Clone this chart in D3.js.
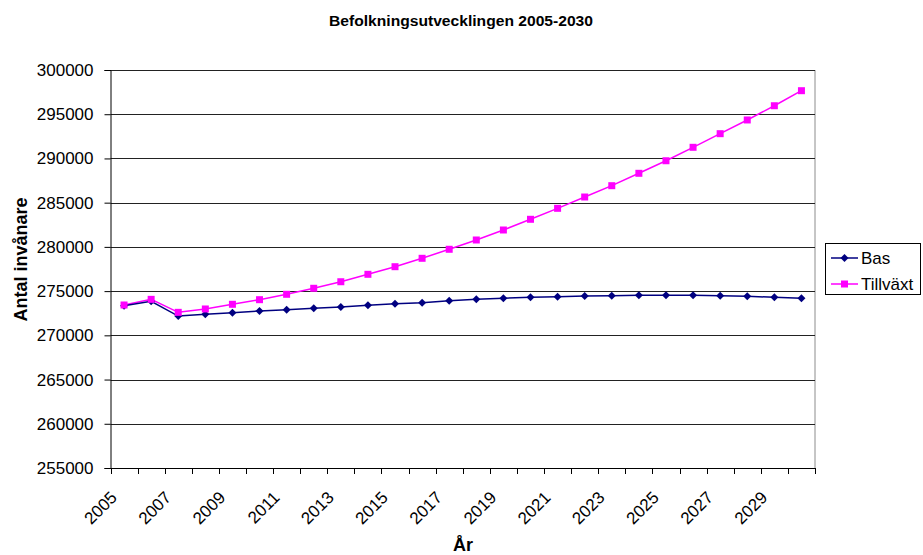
<!DOCTYPE html>
<html>
<head>
<meta charset="utf-8">
<script src="https://cdn.jsdelivr.net/npm/d3@7"></script>
<style>
  html, body { margin: 0; padding: 0; background: #fff; }
  svg { display: block; font-family: Arial, "Liberation Sans", sans-serif; }
</style>
</head>
<body>
<svg id="chart" width="923" height="555"></svg>
<script>
const years = ["2005","2006","2007","2008","2009","2010","2011","2012","2013","2014","2015","2016","2017","2018","2019","2020","2021","2022","2023","2024","2025","2026","2027","2028","2029","2030"];
const bas = [273350, 273850, 272180, 272380, 272560, 272750, 272900, 273060, 273200, 273390, 273580, 273690, 273910, 274070, 274190, 274300, 274370, 274450, 274480, 274520, 274540, 274520, 274480, 274410, 274300, 274190];
const tillvaxt = [273430, 274070, 272600, 272980, 273510, 274030, 274640, 275320, 276060, 276900, 277760, 278710, 279730, 280780, 281910, 283120, 284360, 285640, 286920, 288320, 289740, 291260, 292800, 294350, 295960, 297660];
const yTicks = [255000, 260000, 265000, 270000, 275000, 280000, 285000, 290000, 295000, 300000];
const xLabels = ["2005","2007","2009","2011","2013","2015","2017","2019","2021","2023","2025","2027","2029"];
const seriesNames = ["Bas", "Tillväxt"];
const title = "Befolkningsutvecklingen 2005-2030";
const yTitle = "Antal invånare";
const xTitle = "År";

const svg = d3.select("#chart");
const L = 110.5, R = 815, T = 70, B = 468;

const x = d3.scaleBand().domain(years).range([L, R]).paddingInner(0).paddingOuter(0);
const y = d3.scaleLinear().domain([255000, 300000]).range([B, T]);

// Title
svg.append("text")
  .attr("x", 461).attr("y", 25.5)
  .attr("text-anchor", "middle")
  .attr("font-weight", "bold").attr("font-size", 14)
  .attr("textLength", 264).attr("lengthAdjust", "spacingAndGlyphs")
  .text(title);

// Plot border (right gray)
svg.append("line").attr("x1", R).attr("x2", R).attr("y1", T).attr("y2", B)
  .attr("stroke", "#8c8c8c").attr("stroke-width", 1);

// Gridlines
svg.append("g").selectAll("line").data(yTicks.filter(d => d !== 255000)).join("line")
  .attr("x1", L).attr("x2", R)
  .attr("y1", d => Math.round(y(d)) + 0.5).attr("y2", d => Math.round(y(d)) + 0.5)
  .attr("stroke", "#222").attr("stroke-width", 1);

// Y axis
const yAxis = svg.append("g").attr("transform", `translate(${L},0)`)
  .call(d3.axisLeft(y).tickValues(yTicks).tickSize(6).tickPadding(11).tickFormat(d => String(d)));
yAxis.select(".domain").attr("stroke", "#000");
yAxis.selectAll(".tick line").attr("stroke", "#000");
yAxis.selectAll("text").attr("font-size", 17).attr("fill", "#000")
  .attr("font-family", 'Arial, "Liberation Sans", sans-serif');

// X axis: labels at band centers
const xAxis = svg.append("g").attr("transform", `translate(0,${B})`)
  .call(d3.axisBottom(x).tickValues(xLabels).tickSize(0).tickSizeOuter(0));
xAxis.select(".domain").attr("stroke", "#000");
xAxis.selectAll(".tick line").remove();
xAxis.selectAll("text")
  .attr("x", 0).attr("y", 0).attr("dy", 0)
  .attr("transform", "translate(-6,30.6) rotate(-45)")
  .style("text-anchor", "end")
  .attr("font-size", 17).attr("fill", "#000")
  .attr("font-family", 'Arial, "Liberation Sans", sans-serif');

// X boundary ticks
const bounds = years.map(d => x(d)).concat([x(years[years.length - 1]) + x.bandwidth()]);
svg.append("g").selectAll("line").data(bounds).join("line")
  .attr("x1", d => Math.round(d) + 0.5).attr("x2", d => Math.round(d) + 0.5)
  .attr("y1", B).attr("y2", B + 6)
  .attr("stroke", "#000");

// Axis titles
svg.append("text")
  .attr("transform", "translate(26.5,259.5) rotate(-90)")
  .attr("text-anchor", "middle").attr("font-weight", "bold").attr("font-size", 18)
  .text(yTitle);
svg.append("text")
  .attr("x", 463).attr("y", 551)
  .attr("text-anchor", "middle").attr("font-weight", "bold").attr("font-size", 18)
  .text(xTitle);

// Series
const cx = d => x(d) + x.bandwidth() / 2;
const line = d3.line().x(d => cx(d.year)).y(d => y(d.v));
const basData = years.map((yr, i) => ({ year: yr, v: bas[i] }));
const tilData = years.map((yr, i) => ({ year: yr, v: tillvaxt[i] }));
const navy = "#000080", pink = "#FF00FF";

svg.append("path").datum(tilData).attr("d", line)
  .attr("fill", "none").attr("stroke", pink).attr("stroke-width", 1.5);
svg.append("path").datum(basData).attr("d", line)
  .attr("fill", "none").attr("stroke", navy).attr("stroke-width", 1.5);

const square = d3.symbol().type(d3.symbolSquare).size(49);
const diamondSq = d3.symbol().type(d3.symbolSquare).size(32);

svg.append("g").selectAll("path").data(basData).join("path")
  .attr("d", diamondSq)
  .attr("transform", d => `translate(${cx(d.year)},${y(d.v)}) rotate(45)`)
  .attr("fill", navy);
svg.append("g").selectAll("path").data(tilData).join("path")
  .attr("transform", d => `translate(${cx(d.year)},${y(d.v)})`)
  .attr("d", square)
  .attr("fill", pink);

// Legend
const lg = svg.append("g");
lg.append("rect").attr("x", 825.5).attr("y", 243.5).attr("width", 95).attr("height", 51)
  .attr("fill", "#fff").attr("stroke", "#000").attr("stroke-width", 1);
const legendItems = [
  { name: seriesNames[0], color: navy, sym: "d", yy: 258 },
  { name: seriesNames[1], color: pink, sym: "s", yy: 284 }
];
legendItems.forEach(it => {
  lg.append("line").attr("x1", 831).attr("x2", 858).attr("y1", it.yy).attr("y2", it.yy)
    .attr("stroke", it.color).attr("stroke-width", 1.5);
  if (it.sym === "d") {
    lg.append("path").attr("d", diamondSq())
      .attr("transform", `translate(844.5,${it.yy}) rotate(45)`).attr("fill", it.color);
  } else {
    lg.append("path").attr("d", square()).attr("transform", `translate(844.5,${it.yy})`).attr("fill", it.color);
  }
  lg.append("text").attr("x", 861).attr("y", it.yy).attr("dy", "0.36em")
    .attr("font-size", 17).text(it.name);
});
</script>
</body>
</html>
